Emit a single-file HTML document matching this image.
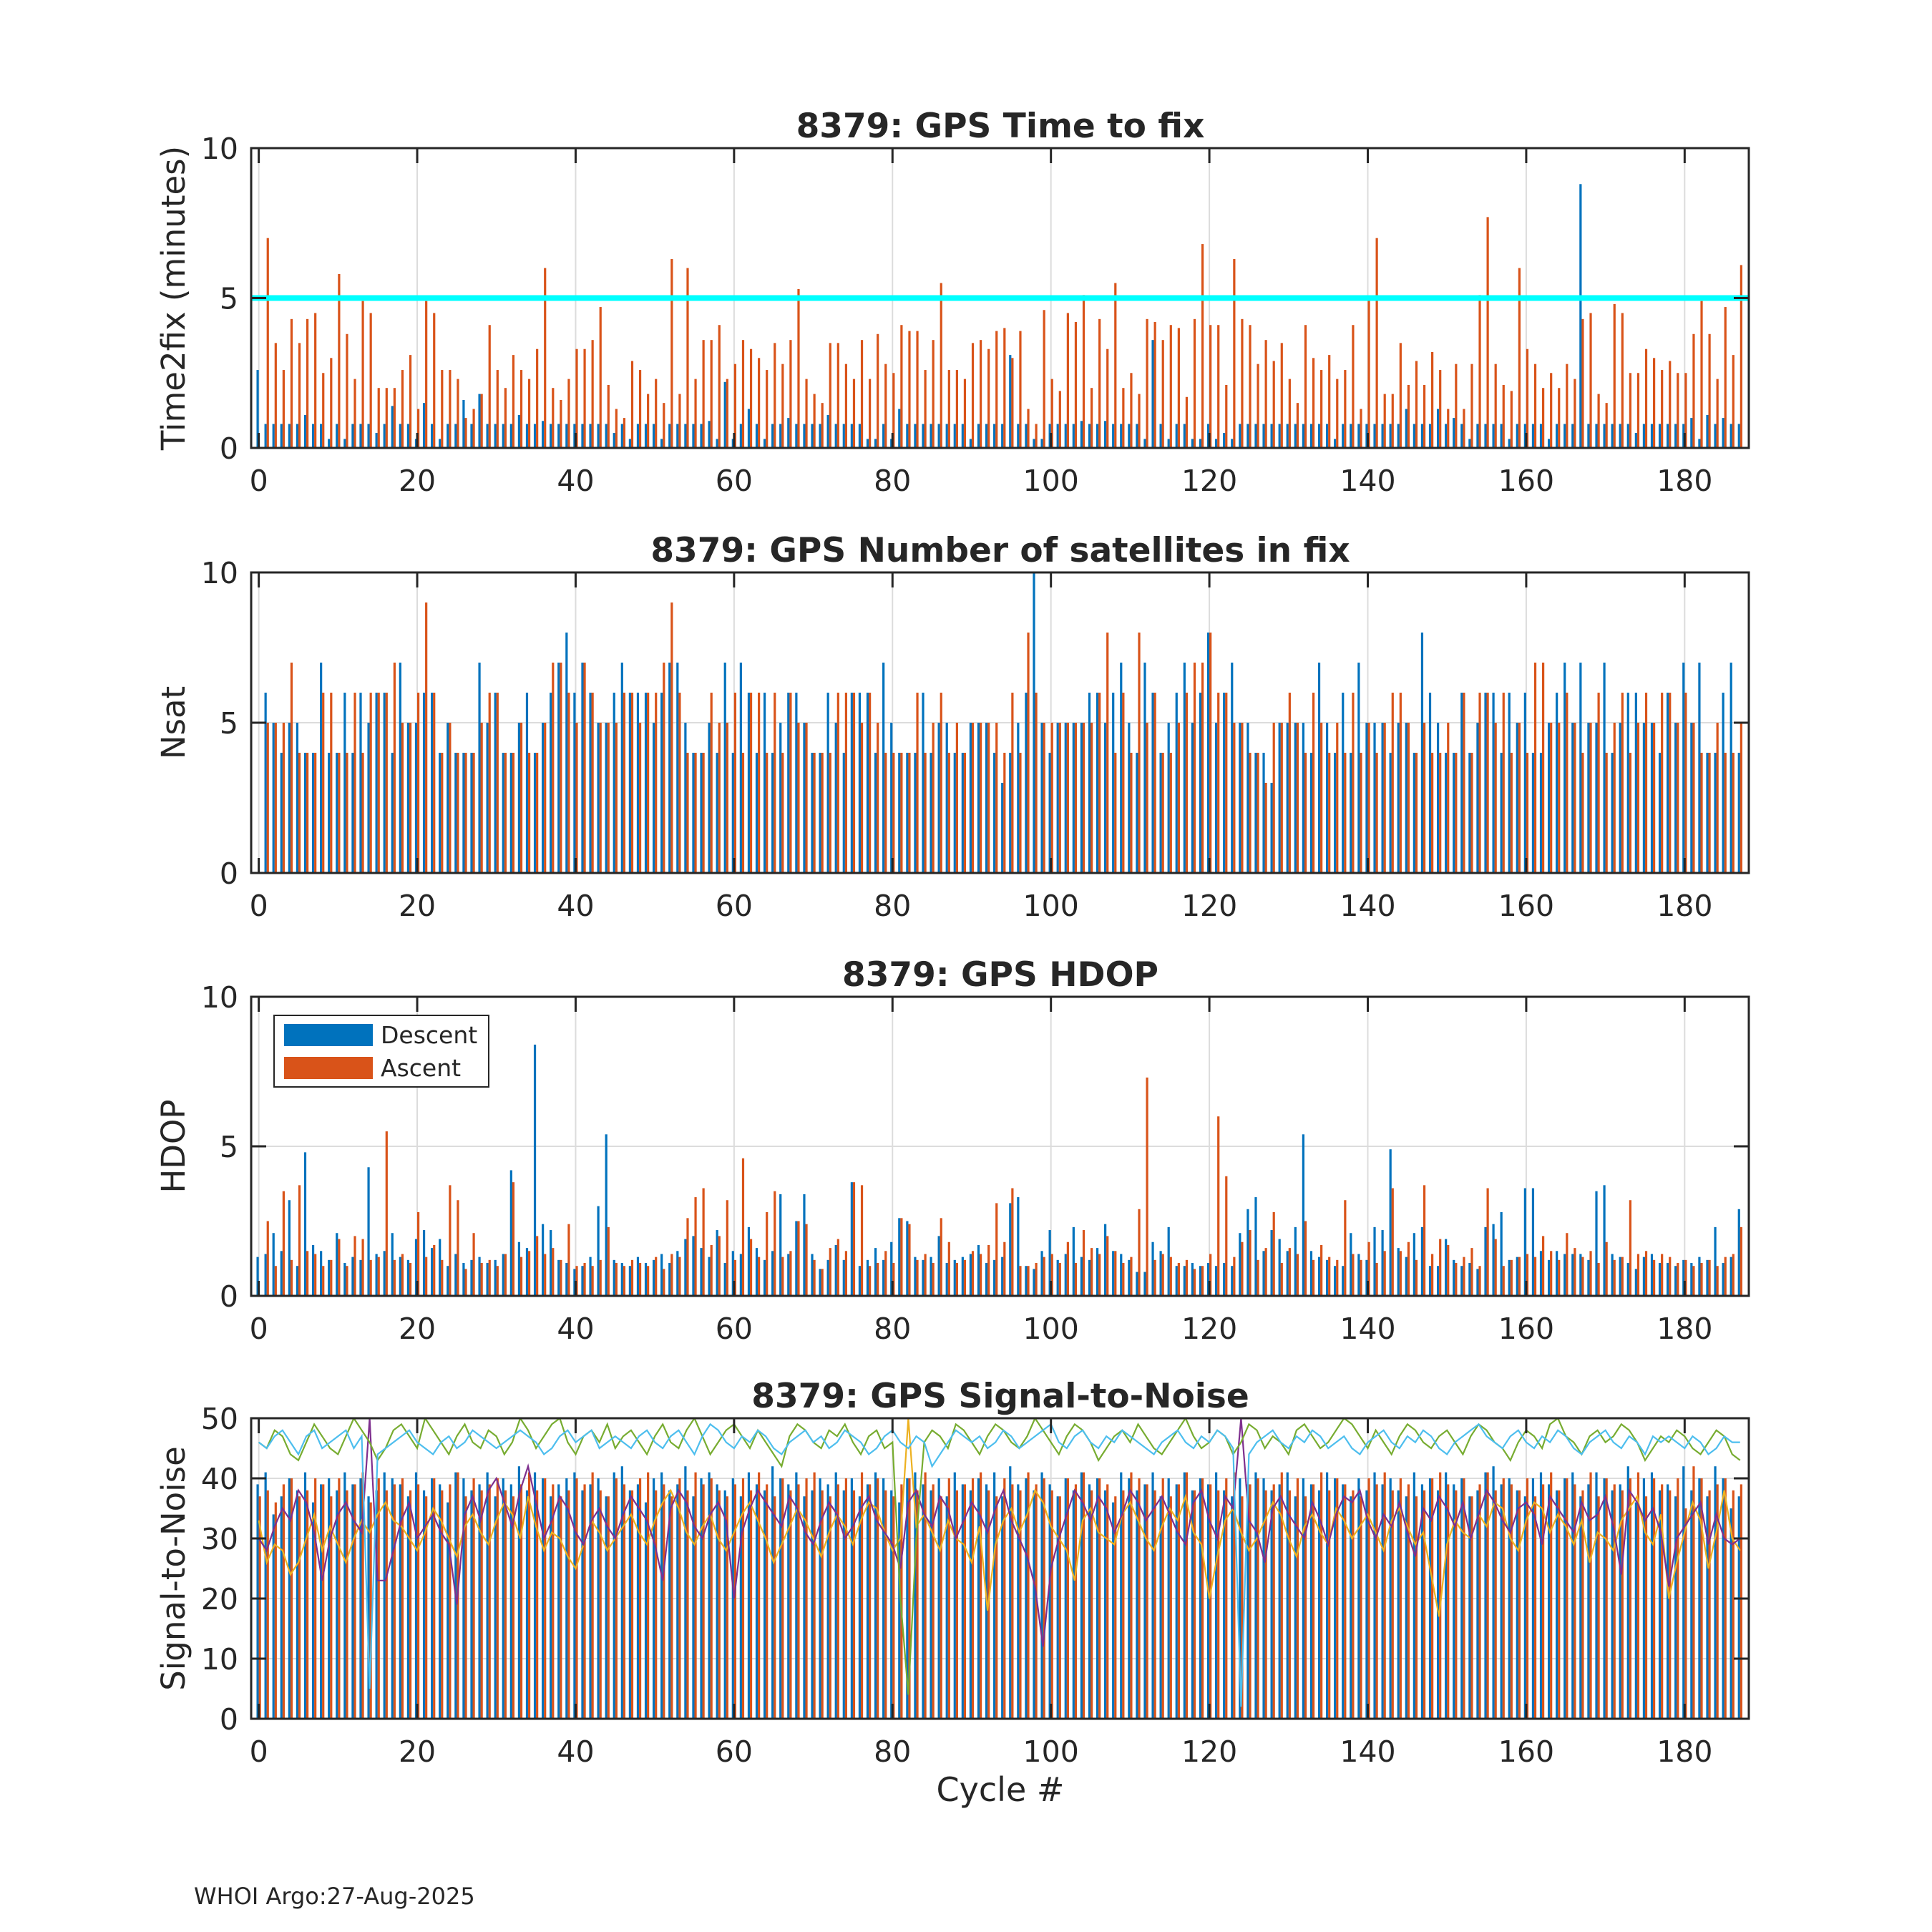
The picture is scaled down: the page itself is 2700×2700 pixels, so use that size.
<!DOCTYPE html>
<html><head><meta charset="utf-8"><style>
html,body{margin:0;padding:0;background:#fff}
svg{display:block}
text{font-family:"DejaVu Sans","Liberation Sans",sans-serif;fill:#262626}
</style></head><body>
<svg id="fig" width="2700" height="2700" viewBox="0 0 2700 2700" xmlns="http://www.w3.org/2000/svg">
<rect width="2700" height="2700" fill="#fff"/>
<text x="271" y="2661" font-size="32">WHOI Argo:27-Aug-2025</text>
<text x="1398" y="2517" font-size="46" text-anchor="middle">Cycle #</text>
</svg>
<script>
const cycles = Array.from({length:188},(_, i)=>i);
const t2fDescent = [2.6,0.8,0.8,0.8,0.8,0.8,1.1,0.8,0.8,0.3, 0.8,0.3,0.8,0.8,0.8,0.5,0.8,1.4,0.8,0.8, 0.3,1.5,0.8,0.3,0.8,0.8,1.6,0.8,1.8,0.8, 0.8,0.8,0.8,1.1,0.8,0.8,0.9,0.8,0.8,0.8, 0.8,0.8,0.8,0.8,0.8,0.5,0.8,0.3,0.8,0.8, 0.8,0.3,0.8,0.8,0.8,0.8,0.8,0.9,0.3,2.2, 0.3,0.8,1.3,0.8,0.3,0.8,0.8,1.0,0.8,0.8, 0.8,0.8,1.1,0.8,0.8,0.8,0.8,0.3,0.3,0.8, 0.3,1.3,0.8,0.8,0.8,0.8,0.8,0.8,0.8,0.8, 0.3,0.8,0.8,0.8,0.8,3.1,0.8,0.8,0.3,0.3, 0.8,0.8,0.8,0.8,0.9,0.8,0.8,0.9,0.8,0.8, 0.8,0.8,0.3,3.6,0.8,0.3,0.8,0.8,0.3,0.3, 0.8,0.3,0.5,0.3,0.8,0.8,0.8,0.8,0.8,0.8, 0.8,0.8,0.8,0.8,0.8,0.8,0.3,0.8,0.8,0.8, 0.8,0.8,0.8,0.8,0.8,1.3,0.8,0.8,0.8,1.3, 0.8,1.0,0.8,0.3,0.8,0.8,0.8,0.8,0.3,0.8, 0.8,0.8,0.8,0.3,0.8,0.8,0.8,8.8,0.8,0.8, 0.8,0.8,0.8,0.8,0.5,0.8,0.8,0.8,0.8,0.8, 0.8,1.0,0.3,1.1,0.8,1.0,0.8,0.8];
const t2fAscent = [0,7.0,3.5,2.6,4.3,3.5,4.3,4.5,2.5,3.0, 5.8,3.8,2.3,4.9,4.5,2.0,2.0,2.0,2.6,3.1, 1.3,4.9,4.5,2.6,2.6,2.3,1.0,1.3,1.8,4.1, 2.6,2.0,3.1,2.6,2.3,3.3,6.0,2.0,1.6,2.3, 3.3,3.3,3.6,4.7,2.1,1.3,1.0,2.9,2.6,1.8, 2.3,1.5,6.3,1.8,6.0,2.3,3.6,3.6,4.1,2.3, 2.8,3.6,3.3,3.0,2.6,3.5,2.8,3.6,5.3,2.3, 1.8,1.5,3.5,3.5,2.8,2.3,3.6,2.3,3.8,2.8, 2.5,4.1,3.9,3.9,2.6,3.6,5.5,2.6,2.6,2.3, 3.5,3.6,3.3,3.9,4.0,3.0,3.9,1.3,0.8,4.6, 2.3,1.9,4.5,4.2,5.1,2.0,4.3,3.3,5.5,2.0, 2.5,1.8,4.3,4.2,3.6,4.1,4.0,1.7,4.3,6.8, 4.1,4.1,2.1,6.3,4.3,4.1,2.8,3.6,2.9,3.5, 2.3,1.5,4.1,3.0,2.6,3.1,2.3,2.6,4.1,1.3, 5.0,7.0,1.8,1.8,3.5,2.1,2.9,2.1,3.2,2.6, 1.3,2.8,1.3,2.8,5.1,7.7,2.8,2.1,1.9,6.0, 3.3,2.8,2.0,2.5,2.0,2.8,2.3,4.3,4.5,1.8, 1.5,4.8,4.5,2.5,2.5,3.3,3.0,2.6,2.9,2.5, 2.5,3.8,4.9,3.8,2.3,4.7,3.1,6.1];
const t2fLimit = [5];
const nsatDescent = [0,6,5,4,5,5,4,4,7,4, 4,6,4,6,5,6,6,4,7,5, 5,6,6,4,5,4,4,4,7,5, 6,4,4,5,6,4,5,6,7,8, 6,7,6,5,5,6,7,6,6,6, 5,6,7,7,5,4,4,5,4,7, 4,7,6,4,6,4,5,6,6,5, 4,4,6,5,4,6,6,6,4,7, 5,4,4,4,6,4,5,5,4,4, 5,5,5,4,3,4,5,6,10,5, 4,5,5,5,5,6,6,5,6,7, 5,4,7,6,4,5,6,7,5,6, 8,5,6,7,5,5,4,4,3,5, 5,5,5,4,7,5,4,6,4,7, 5,5,5,4,5,5,4,8,6,5, 4,4,6,4,5,6,6,4,6,5, 6,4,4,5,6,7,5,7,5,5, 7,4,5,6,6,5,5,4,6,5, 7,5,7,4,4,6,7,4];
const nsatAscent = [0,5,5,5,7,4,4,4,6,6, 4,4,6,4,6,6,6,7,5,5, 6,9,6,4,5,4,4,4,5,6, 6,4,4,5,4,4,5,7,7,6, 5,7,6,5,5,5,6,6,5,6, 6,7,9,6,4,4,4,6,5,5, 6,4,6,6,4,6,4,6,5,5, 4,4,4,6,6,6,5,6,5,4, 4,4,4,6,4,5,6,4,5,4, 5,5,5,5,4,6,4,8,6,5, 5,5,5,5,5,5,6,8,4,6, 4,8,5,6,4,4,5,6,7,7, 8,6,6,5,5,4,4,3,5,5, 6,5,4,6,5,4,5,4,6,4, 5,4,5,6,6,5,4,5,4,4, 5,4,6,4,6,6,5,6,4,5, 4,7,7,5,5,6,5,4,5,6, 4,5,6,4,5,6,5,6,6,5, 6,5,4,4,5,4,4,5];
const hdopDescent = [1.3,1.4,2.1,1.5,3.2,1.0,4.8,1.7,1.5,1.2, 2.1,1.1,1.3,1.2,4.3,1.4,1.5,2.1,1.3,1.2, 1.9,2.2,1.6,1.9,1.0,1.4,1.1,1.2,1.3,1.1, 1.2,1.4,4.2,1.8,1.6,8.4,2.4,2.2,1.2,1.1, 0.9,1.0,1.3,3.0,5.4,1.2,1.1,1.0,1.3,1.1, 1.2,1.4,1.1,1.5,1.9,2.0,1.6,1.3,2.2,1.1, 1.5,1.4,2.3,1.6,1.2,1.5,3.4,1.4,2.5,3.4, 1.4,0.9,1.2,1.7,1.2,3.8,1.0,1.2,1.6,1.2, 1.8,2.6,2.5,1.3,1.2,1.3,2.0,1.1,1.2,1.3, 1.4,1.7,1.1,1.2,1.3,3.1,3.3,1.0,0.9,1.5, 2.2,1.2,1.4,2.3,1.3,1.2,1.6,2.4,1.5,1.4, 1.2,0.8,0.8,1.8,1.5,2.3,1.0,1.0,1.1,1.0, 1.1,1.0,1.1,1.0,2.1,2.9,3.3,1.5,2.2,1.9, 1.5,2.3,5.4,1.5,1.3,1.2,1.0,1.0,2.1,1.4, 1.2,2.3,2.2,4.9,1.6,1.3,2.1,2.3,1.0,1.0, 1.9,1.2,1.0,1.1,0.9,2.3,2.4,2.8,1.2,1.3, 3.6,3.6,1.5,1.2,1.5,1.4,1.4,1.4,1.2,3.5, 3.7,1.4,1.3,1.1,0.9,1.3,1.4,1.1,1.1,1.0, 1.2,1.1,1.3,1.2,2.3,1.1,1.3,2.9];
const hdopAscent = [0,2.5,1.0,3.5,1.2,3.7,1.5,1.4,1.0,1.2, 1.9,1.0,2.0,1.9,1.2,1.3,5.5,1.2,1.4,1.1, 2.8,1.3,1.7,1.2,3.7,3.2,0.9,2.1,1.1,1.2, 1.0,1.4,3.8,1.3,1.5,2.0,1.4,1.6,1.2,2.4, 1.0,1.1,1.0,1.2,2.3,1.1,1.0,1.2,1.1,1.0, 1.3,0.9,1.4,1.3,2.6,3.3,3.6,1.7,2.0,3.2, 1.2,4.6,1.9,1.3,2.8,3.5,1.3,1.5,2.5,2.4, 1.2,0.9,1.6,1.9,1.5,3.8,3.7,1.0,1.1,1.5, 1.1,2.6,2.4,1.2,1.4,1.1,2.6,1.8,1.1,1.2, 1.5,1.4,1.7,3.1,1.8,3.6,1.0,1.0,1.1,1.3, 1.4,1.1,1.8,1.1,2.2,1.6,1.4,2.0,1.5,1.1, 1.3,2.9,7.3,1.2,1.4,1.3,1.1,1.2,0.9,1.0, 1.4,6.0,4.0,1.3,1.8,2.2,1.2,1.6,2.8,1.1, 1.6,1.4,2.5,1.2,1.7,1.3,1.2,3.2,1.4,1.2, 1.8,1.1,1.5,3.6,1.5,1.8,1.2,3.7,1.4,1.9, 1.7,1.1,1.3,1.6,1.0,3.6,1.9,1.0,1.2,1.3, 1.4,1.3,2.0,1.5,1.2,2.1,1.6,1.3,1.5,1.1, 1.8,1.2,1.3,3.2,1.4,1.5,1.2,1.4,1.3,1.1, 1.2,1.0,1.1,1.2,1.0,1.3,1.4,2.3];
const snrDescent = [39,41,34,37,40,38,41,36,39,40, 38,41,39,40,37,38,41,40,39,37, 41,38,40,39,36,41,40,38,39,41, 37,40,39,42,38,41,40,37,39,40, 41,38,39,40,37,41,42,38,39,36, 40,41,38,39,42,37,40,41,39,38, 40,37,41,39,38,42,40,39,41,37, 38,40,39,41,38,40,37,39,41,40, 38,36,40,41,39,38,40,37,41,39, 38,40,39,41,37,42,39,40,38,41, 39,37,40,38,41,39,40,38,36,41, 40,38,39,41,37,40,39,41,38,40, 39,41,38,37,40,39,41,40,38,39, 41,37,40,39,38,41,40,39,37,40, 38,41,39,40,38,37,41,39,40,38, 41,39,40,37,38,41,42,39,40,38, 37,40,41,39,38,40,41,37,39,41, 40,38,39,42,36,40,41,38,39,37, 42,38,40,37,42,40,35,37];
const snrAscent = [37,38,36,39,40,37,38,40,39,37, 40,38,39,41,36,40,38,39,40,38, 39,37,40,38,39,41,37,40,38,39, 40,38,37,39,41,38,40,39,37,38, 40,39,41,38,37,40,39,38,40,41, 38,39,37,40,38,41,39,40,38,37, 39,40,38,41,39,37,40,38,39,40, 41,38,37,39,40,38,41,39,40,38, 37,39,40,38,41,39,37,40,38,39, 40,41,38,37,40,39,38,41,39,40, 38,37,40,39,41,38,40,39,37,38, 41,40,39,38,40,37,39,41,38,40, 39,38,40,41,37,39,40,38,39,41, 38,40,37,39,41,38,40,39,38,37, 40,39,41,38,40,39,37,38,40,41, 39,38,40,37,39,41,38,40,39,38, 40,37,39,41,38,40,39,38,41,37, 40,39,38,40,41,37,40,39,38,40, 35,42,40,38,39,40,38,39];
const snrYellow = [33,26,29,28,24,26,30,34,28,32, 29,26,30,33,31,34,36,33,32,30, 28,31,35,33,30,27,32,34,31,29, 33,36,34,30,37,32,28,31,30,27, 25,29,33,31,28,30,32,34,31,29, 33,36,38,35,31,29,32,34,30,28, 31,34,36,33,30,26,29,32,35,33, 30,27,31,34,32,29,33,36,35,31, 28,30,50,32,34,31,28,33,30,29, 26,32,18,29,33,35,31,34,38,36, 32,30,28,23,33,35,31,30,29,34, 36,33,30,28,32,35,33,37,31,29, 20,27,33,35,31,28,30,33,36,34, 30,27,32,34,31,29,35,33,30,32, 34,31,28,33,35,32,29,31,24,17, 29,33,31,30,34,32,36,35,30,28, 33,36,35,31,34,32,29,33,26,31, 30,28,33,35,37,31,29,34,20,26, 31,36,33,25,31,38,30,28];
const snrPurple = [30,28,32,35,33,38,36,31,23,30, 34,36,33,31,50,23,23,28,33,36, 30,32,34,31,29,19,34,37,33,38, 40,36,32,38,42,36,30,33,37,35, 31,29,33,35,32,30,34,37,35,33, 29,23,35,38,36,32,30,34,36,33, 20,31,35,38,36,34,32,37,35,31, 29,33,36,34,30,32,35,37,33,31, 29,25,36,38,34,32,37,35,30,33, 36,34,31,35,38,33,30,27,22,12, 25,30,34,38,36,33,37,35,31,34, 38,36,33,35,37,34,31,29,36,38, 33,30,37,35,50,33,31,26,35,37, 34,32,30,36,33,29,34,37,36,38, 33,30,34,32,36,31,27,35,33,37, 35,32,36,30,34,38,36,33,31,35, 36,34,29,37,35,33,31,36,33,34, 37,32,24,38,36,33,35,31,22,30, 32,34,36,29,34,30,29,30];
const snrGreen = [46,45,48,47,44,43,46,49,47,45, 44,47,50,48,46,43,45,48,49,47, 45,50,48,46,44,47,49,46,45,48, 47,44,46,50,48,45,47,49,50,46, 44,47,48,46,49,45,47,48,46,44, 47,49,46,45,48,50,47,44,46,48, 49,47,45,48,46,44,42,47,49,48, 46,45,48,47,49,46,44,47,48,45, 46,20,4,30,46,48,47,45,49,48, 46,44,47,49,48,46,45,47,50,48, 46,44,47,49,48,46,43,45,47,48, 46,49,47,45,44,46,48,50,47,45, 46,48,47,44,46,49,48,45,47,46, 44,48,49,47,45,46,48,50,49,47, 45,48,46,44,47,49,48,46,45,47, 48,46,44,47,49,48,46,45,43,46, 48,47,45,49,50,47,46,44,47,48, 46,47,49,48,46,43,45,47,46,48, 47,45,44,46,48,47,44,43];
const snrCyan = [46,45,47,48,46,44,47,48,45,46, 47,48,45,47,5,44,45,46,47,48, 46,45,44,46,47,45,46,48,47,46, 45,46,47,48,47,46,44,45,47,48, 46,47,48,45,46,47,46,45,47,48, 46,45,47,48,46,44,47,49,48,46, 45,47,46,48,47,45,44,46,47,48, 46,47,45,46,48,47,46,44,45,47, 48,46,45,47,46,42,44,46,48,47, 46,47,45,46,48,47,45,46,47,48, 49,46,45,47,48,46,45,47,46,48, 47,46,45,44,46,47,48,46,45,47, 46,48,47,45,2,44,46,47,48,46, 45,47,46,48,47,45,46,47,45,44, 46,47,48,46,45,47,46,48,47,45, 44,46,47,48,49,47,46,45,47,48, 46,45,47,46,48,47,45,44,46,47, 48,46,45,47,46,44,47,46,47,46, 45,47,46,44,45,47,46,46];
const xTicks = [0,20,40,60,80,100,120,140,160,180];
const yTicks10 = [0,5,10];
const yTicks50 = [0,10,20,30,40,50];
const titles = ["8379: GPS Time to fix","8379: GPS Number of satellites in fix","8379: GPS HDOP","8379: GPS Signal-to-Noise"];
const yTitles = ["Time2fix (minutes)","Nsat","HDOP","Signal-to-Noise"];

const NS='http://www.w3.org/2000/svg';
const svg=document.getElementById('fig');
const X0=351, X1=2444, XMIN=-0.96, XMAX=188.1;
const xs=v=>X0+(v-XMIN)/(XMAX-XMIN)*(X1-X0);
const BLUE='#0072BD', ORANGE='#D95319';
function mk(tag,attrs,parent){const e=document.createElementNS(NS,tag);for(const k in attrs)e.setAttribute(k,attrs[k]);(parent||svg).appendChild(e);return e;}

const panels=[
 {top:207,bot:626,ymax:10,ticks:yTicks10,d:t2fDescent,a:t2fAscent,key:'time-to-fix'},
 {top:800,bot:1220,ymax:10,ticks:yTicks10,d:nsatDescent,a:nsatAscent,key:'nsat'},
 {top:1393,bot:1811,ymax:10,ticks:yTicks10,d:hdopDescent,a:hdopAscent,key:'hdop'},
 {top:1982,bot:2402,ymax:50,ticks:yTicks50,d:snrDescent,a:snrAscent,key:'snr'}
];
panels.forEach((p,pi)=>{
 const ys=v=>p.bot-Math.max(0,Math.min(v,p.ymax))/p.ymax*(p.bot-p.top);
 const g=mk('g',{});
 
 
 xTicks.forEach(t=>{const l=mk('line',{x1:xs(t),x2:xs(t),y1:p.top,y2:p.bot,stroke:'#dcdcdc','stroke-width':2},g);
  });
 p.ticks.forEach(t=>{const l=mk('line',{x1:X0,x2:X1,y1:ys(t),y2:ys(t),stroke:'#dcdcdc','stroke-width':2},g);
  });
 const bw=3.2;
 cycles.forEach(i=>{
  const vd=p.d[i], va=p.a[i];
  if(vd>0){const r=mk('rect',{x:xs(i-0.14)-bw/2,y:ys(vd),width:bw,height:p.bot-ys(vd),fill:BLUE},g);
   }
  if(va>0){const r=mk('rect',{x:xs(i+0.14)-bw/2,y:ys(va),width:bw,height:p.bot-ys(va),fill:ORANGE},g);
   }
 });
 if(pi===0){
  const l=mk('line',{x1:X0,x2:X1,y1:ys(t2fLimit[0]),y2:ys(t2fLimit[0]),stroke:'#00FFFF','stroke-width':8},g);
  
 }
 if(pi===3){
  const series=[[snrYellow,'#EDB120','snr-line-yellow'],[snrPurple,'#7E2F8E','snr-line-purple'],[snrGreen,'#77AC30','snr-line-green'],[snrCyan,'#4DBEEE','snr-line-cyan']];
  const clip=mk('clipPath',{id:'clipsnr'});
  mk('rect',{x:X0,y:p.top,width:X1-X0,height:p.bot-p.top},clip);
  series.forEach(s=>{
   const pts=cycles.map(i=>xs(i).toFixed(1)+','+ys(s[0][i]).toFixed(1)).join(' ');
   const pl=mk('polyline',{points:pts,fill:'none',stroke:s[1],'stroke-width':2.2,'clip-path':'url(#clipsnr)'},g);
   
  });
 }
 const b=mk('rect',{x:X0,y:p.top,width:X1-X0,height:p.bot-p.top,fill:'none',stroke:'#262626','stroke-width':3},g);
 
 xTicks.forEach(t=>{
  mk('line',{x1:xs(t),x2:xs(t),y1:p.bot,y2:p.bot-21,stroke:'#262626','stroke-width':3},g);
  mk('line',{x1:xs(t),x2:xs(t),y1:p.top,y2:p.top+21,stroke:'#262626','stroke-width':3},g);
  const tx=mk('text',{x:xs(t),y:p.bot+60,'font-size':41,'text-anchor':'middle'},g);
  
  tx.textContent=t;
 });
 p.ticks.forEach(t=>{
  mk('line',{x1:X0,x2:X0+21,y1:ys(t),y2:ys(t),stroke:'#262626','stroke-width':3},g);
  mk('line',{x1:X1,x2:X1-21,y1:ys(t),y2:ys(t),stroke:'#262626','stroke-width':3},g);
  const tx=mk('text',{x:333,y:ys(t)+15,'font-size':41,'text-anchor':'end'},g);
  
  tx.textContent=t;
 });
 const ti=mk('text',{x:1398,y:p.top-15,'font-size':47,'font-weight':'bold','text-anchor':'middle'},g);
 
 ti.textContent=titles[pi];
 const cy=(p.top+p.bot)/2;
 const yt=mk('text',{x:0,y:0,'font-size':45,'text-anchor':'middle',transform:`translate(258,${cy}) rotate(-90)`},g);
 
 yt.textContent=yTitles[pi];
});
const lg=mk('g',{});


mk('rect',{x:383,y:1419,width:300,height:100,fill:'#fff',stroke:'#262626','stroke-width':2},lg);
const e1=mk('rect',{x:397,y:1431,width:124,height:31,fill:BLUE},lg);

const e2=mk('rect',{x:397,y:1477,width:124,height:31,fill:ORANGE},lg);

const l1=mk('text',{x:532,y:1458,'font-size':33},lg);l1.textContent='Descent';

const l2=mk('text',{x:532,y:1504,'font-size':33},lg);l2.textContent='Ascent';

</script>
</body></html>
